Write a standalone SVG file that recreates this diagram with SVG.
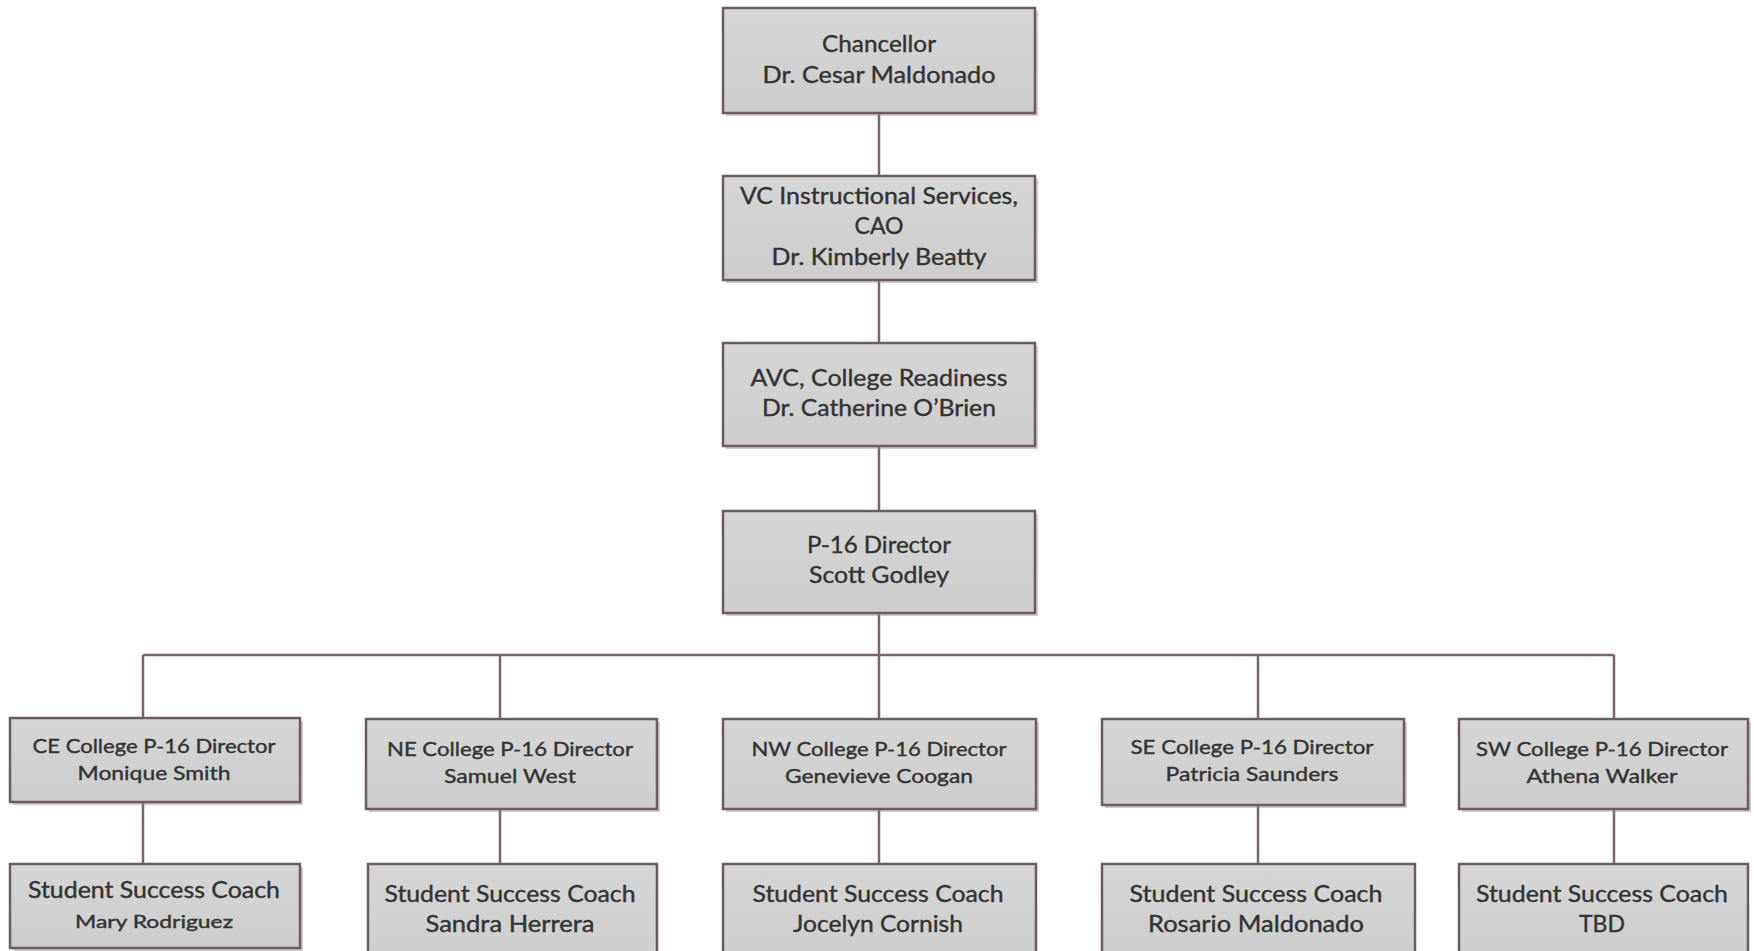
<svg xmlns="http://www.w3.org/2000/svg" width="1754" height="951" viewBox="0 0 1754 951">
<defs>
<linearGradient id="g" x1="0" y1="0" x2="0" y2="1">
<stop offset="0" stop-color="#d6d6d6"/>
<stop offset="1" stop-color="#cdcdcd"/>
</linearGradient>
<style>
.box{fill:url(#g);stroke:#6e5b5b;stroke-width:2.5}
.sh{fill:#9a9090;opacity:0.45}
.t{font-family:Lato,"Open Sans",sans-serif;fill:#333333;stroke:#333333;stroke-width:0.4;text-anchor:middle}
.big{font-size:23px}
.mid{font-size:20px}
.sm{font-size:18px}
.c{stroke:#7a6464;stroke-width:2.5;fill:none}
</style>
</defs>
<rect width="1754" height="951" fill="#ffffff"/>
<g id="connectors">
<path class="c" d="M879 113V176M879 280V343M879 446V511M879 613V655M143 655H1614M143 655V718M500 655V719M879 655V719M1258 655V719M1614 655V719M143 802V864M500 809V864M879 809V864M1258 805V864M1614 809V864"/>
</g>
<g id="chancellor">
<rect class="sh" x="726" y="11" width="312" height="105"/>
<rect class="box" x="723" y="8" width="312" height="105"/>
<text class="t big" x="879" y="52" textLength="114" lengthAdjust="spacingAndGlyphs">Chancellor</text>
<text class="t big" x="879" y="83" textLength="233" lengthAdjust="spacingAndGlyphs">Dr. Cesar Maldonado</text>
</g>
<g id="vc">
<rect class="sh" x="726" y="179" width="312" height="104"/>
<rect class="box" x="723" y="176" width="312" height="104"/>
<text class="t big" x="879" y="204" textLength="278" lengthAdjust="spacingAndGlyphs">VC Instructional Services,</text>
<text class="t big" x="879" y="234" textLength="49" lengthAdjust="spacingAndGlyphs">CAO</text>
<text class="t big" x="879" y="265" textLength="215" lengthAdjust="spacingAndGlyphs">Dr. Kimberly Beatty</text>
</g>
<g id="avc">
<rect class="sh" x="726" y="346" width="312" height="103"/>
<rect class="box" x="723" y="343" width="312" height="103"/>
<text class="t big" x="879" y="386" textLength="257" lengthAdjust="spacingAndGlyphs">AVC, College Readiness</text>
<text class="t big" x="879" y="416" textLength="234" lengthAdjust="spacingAndGlyphs">Dr. Catherine O’Brien</text>
</g>
<g id="p16">
<rect class="sh" x="726" y="514" width="312" height="102"/>
<rect class="box" x="723" y="511" width="312" height="102"/>
<text class="t big" x="879" y="553" textLength="144" lengthAdjust="spacingAndGlyphs">P-16 Director</text>
<text class="t big" x="879" y="583" textLength="140" lengthAdjust="spacingAndGlyphs">Scott Godley</text>
</g>
<g id="ce-director">
<rect class="sh" x="13" y="721" width="290" height="84"/>
<rect class="box" x="10" y="718" width="290" height="84"/>
<text class="t mid" x="154" y="753" textLength="243" lengthAdjust="spacingAndGlyphs">CE College P-16 Director</text>
<text class="t mid" x="154" y="780" textLength="153" lengthAdjust="spacingAndGlyphs">Monique Smith</text>
</g>
<g id="ne-director">
<rect class="sh" x="369" y="722" width="291" height="90"/>
<rect class="box" x="366" y="719" width="291" height="90"/>
<text class="t mid" x="510" y="756" textLength="246" lengthAdjust="spacingAndGlyphs">NE College P-16 Director</text>
<text class="t mid" x="510" y="783" textLength="132" lengthAdjust="spacingAndGlyphs">Samuel West</text>
</g>
<g id="nw-director">
<rect class="sh" x="726" y="722" width="313" height="90"/>
<rect class="box" x="723" y="719" width="313" height="90"/>
<text class="t mid" x="879" y="756" textLength="255" lengthAdjust="spacingAndGlyphs">NW College P-16 Director</text>
<text class="t mid" x="879" y="783" textLength="188" lengthAdjust="spacingAndGlyphs">Genevieve Coogan</text>
</g>
<g id="se-director">
<rect class="sh" x="1105" y="722" width="302" height="86"/>
<rect class="box" x="1102" y="719" width="302" height="86"/>
<text class="t mid" x="1252" y="754" textLength="243" lengthAdjust="spacingAndGlyphs">SE College P-16 Director</text>
<text class="t mid" x="1252" y="781" textLength="173" lengthAdjust="spacingAndGlyphs">Patricia Saunders</text>
</g>
<g id="sw-director">
<rect class="sh" x="1462" y="722" width="289" height="90"/>
<rect class="box" x="1459" y="719" width="289" height="90"/>
<text class="t mid" x="1602" y="756" textLength="252" lengthAdjust="spacingAndGlyphs">SW College P-16 Director</text>
<text class="t mid" x="1602" y="783" textLength="151" lengthAdjust="spacingAndGlyphs">Athena Walker</text>
</g>
<g id="ce-coach">
<rect class="sh" x="13" y="867" width="290" height="84"/>
<rect class="box" x="10" y="864" width="290" height="84"/>
<text class="t big" x="154" y="898" textLength="252" lengthAdjust="spacingAndGlyphs">Student Success Coach</text>
<text class="t sm" x="154" y="928" textLength="158" lengthAdjust="spacingAndGlyphs">Mary Rodriguez</text>
</g>
<g id="ne-coach">
<rect class="box" x="368" y="864" width="289" height="100"/>
<text class="t big" x="510" y="902" textLength="251" lengthAdjust="spacingAndGlyphs">Student Success Coach</text>
<text class="t big" x="510" y="932" textLength="169" lengthAdjust="spacingAndGlyphs">Sandra Herrera</text>
</g>
<g id="nw-coach">
<rect class="box" x="723" y="864" width="313" height="100"/>
<text class="t big" x="878" y="902" textLength="251" lengthAdjust="spacingAndGlyphs">Student Success Coach</text>
<text class="t big" x="878" y="932" textLength="170" lengthAdjust="spacingAndGlyphs">Jocelyn Cornish</text>
</g>
<g id="se-coach">
<rect class="box" x="1102" y="864" width="313" height="100"/>
<text class="t big" x="1256" y="902" textLength="253" lengthAdjust="spacingAndGlyphs">Student Success Coach</text>
<text class="t big" x="1256" y="932" textLength="216" lengthAdjust="spacingAndGlyphs">Rosario Maldonado</text>
</g>
<g id="sw-coach">
<rect class="box" x="1459" y="864" width="289" height="100"/>
<text class="t big" x="1602" y="902" textLength="252" lengthAdjust="spacingAndGlyphs">Student Success Coach</text>
<text class="t big" x="1602" y="932" textLength="46" lengthAdjust="spacingAndGlyphs">TBD</text>
</g>
</svg>
